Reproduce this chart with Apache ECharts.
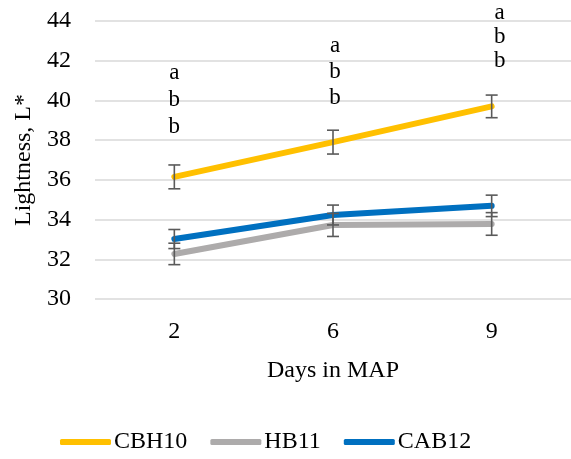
<!DOCTYPE html>
<html>
<head>
<meta charset="utf-8">
<script src="https://cdn.jsdelivr.net/npm/echarts@6/dist/echarts.min.js"></script>
<style>
  html, body { margin: 0; padding: 0; background: #fff; }
  #chart { width: 571px; height: 459px; }
</style>
</head>
<body>
<div id="chart"></div>
<script>
// Lightness (L*) over days in modified atmosphere packaging
const days = ['2', '6', '9'];
const seriesNames = ['CBH10', 'HB11', 'CAB12'];
const cbh10 = [36.15, 37.9, 39.7];
const hb11 = [32.27, 33.73, 33.78];
const cab12 = [33.02, 34.23, 34.69];
const cbh10Err = [0.6, 0.6, 0.57];
const hb11Err = [0.54, 0.58, 0.57];
const cab12Err = [0.48, 0.5, 0.54];
// significance letters per day, top to bottom
const letters = [['a', 'b', 'b'], ['a', 'b', 'b'], ['a', 'b', 'b']];
const yTicks = [30, 32, 34, 36, 38, 40, 42, 44];

const colors = ['#FFC000', '#ADABAB', '#0070C0'];
const values = [cbh10, hb11, cab12];
const errors = [cbh10Err, hb11Err, cab12Err];
const FONT = '"Liberation Serif", "Times New Roman", serif';

const chart = echarts.init(document.getElementById('chart'), null, { renderer: 'canvas' });

const lineSeries = seriesNames.map((name, k) => ({
  name: name,
  type: 'line',
  data: values[k],
  symbol: 'none',
  lineStyle: { color: colors[k], width: 6, cap: 'round' },
  itemStyle: { color: colors[k] },
  z: 2 + k
}));

// error bars: one whisker per point
const errorData = [];
values.forEach((vals, k) => {
  vals.forEach((v, i) => errorData.push([i, v - errors[k][i], v + errors[k][i]]));
});

const errorSeries = {
  type: 'custom',
  name: 'err',
  data: errorData,
  z: 10,
  silent: true,
  renderItem: function (params, api) {
    const i = api.value(0);
    const lo = api.coord([i, api.value(1)]);
    const hi = api.coord([i, api.value(2)]);
    const hw = 6;
    const style = { stroke: '#5a5a5a', lineWidth: 1.6, fill: null };
    return {
      type: 'group',
      children: [
        { type: 'line', shape: { x1: lo[0], y1: lo[1], x2: hi[0], y2: hi[1] }, style: style },
        { type: 'line', shape: { x1: lo[0] - hw, y1: lo[1], x2: lo[0] + hw, y2: lo[1] }, style: style },
        { type: 'line', shape: { x1: hi[0] - hw, y1: hi[1], x2: hi[0] + hw, y2: hi[1] }, style: style }
      ]
    };
  }
};

// letters stacked above the upper whisker of the top line
const letterLift = [38, 32, 34];
const letterGap = [27, 26, 24];
const letterShift = [0, 2, 8];
const letterSeries = {
  type: 'custom',
  name: 'letters',
  data: days.map((d, i) => [i, cbh10[i] + cbh10Err[i]]),
  z: 11,
  silent: true,
  clip: false,
  renderItem: function (params, api) {
    const i = api.value(0);
    const p = api.coord([i, api.value(1)]);
    const set = letters[i];
    const n = set.length;
    return {
      type: 'group',
      children: set.map((t, j) => ({
        type: 'text',
        style: {
          text: t,
          x: p[0] + letterShift[i],
          y: p[1] - letterLift[i] - (n - 1 - j) * letterGap[i],
          font: '23px ' + FONT,
          fill: '#000',
          align: 'center',
          verticalAlign: 'middle'
        }
      }))
    };
  }
};

chart.setOption({
  animation: false,
  textStyle: { fontFamily: FONT },
  grid: { left: 95, right: -4, top: 21, bottom: 160, containLabel: false },
  legend: {
    data: seriesNames,
    left: 55,
    top: 425,
    icon: 'roundRect',
    itemWidth: 51,
    itemHeight: 6,
    itemGap: 23,
    textStyle: { fontFamily: FONT, fontSize: 24, color: '#000', padding: [0, 0, 0, -2] }
  },
  xAxis: {
    type: 'category',
    data: days,
    boundaryGap: true,
    name: 'Days in MAP',
    nameLocation: 'middle',
    nameGap: 60,
    nameTextStyle: { fontFamily: FONT, fontSize: 24, color: '#000' },
    axisLine: { show: false },
    axisTick: { show: false },
    axisLabel: { fontFamily: FONT, fontSize: 24, color: '#000', margin: 21 }
  },
  yAxis: {
    type: 'value',
    min: yTicks[0],
    max: yTicks[yTicks.length - 1],
    interval: 2,
    name: 'Lightness, L*',
    nameLocation: 'middle',
    nameGap: 58,
    nameTextStyle: { fontFamily: FONT, fontSize: 24, color: '#000' },
    axisLine: { show: false },
    axisTick: { show: false },
    axisLabel: { fontFamily: FONT, fontSize: 24, color: '#000', margin: 24 },
    splitLine: { lineStyle: { color: '#d9d9d9', width: 1.5 } }
  },
  series: lineSeries.concat([errorSeries, letterSeries])
});
</script>
</body>
</html>
